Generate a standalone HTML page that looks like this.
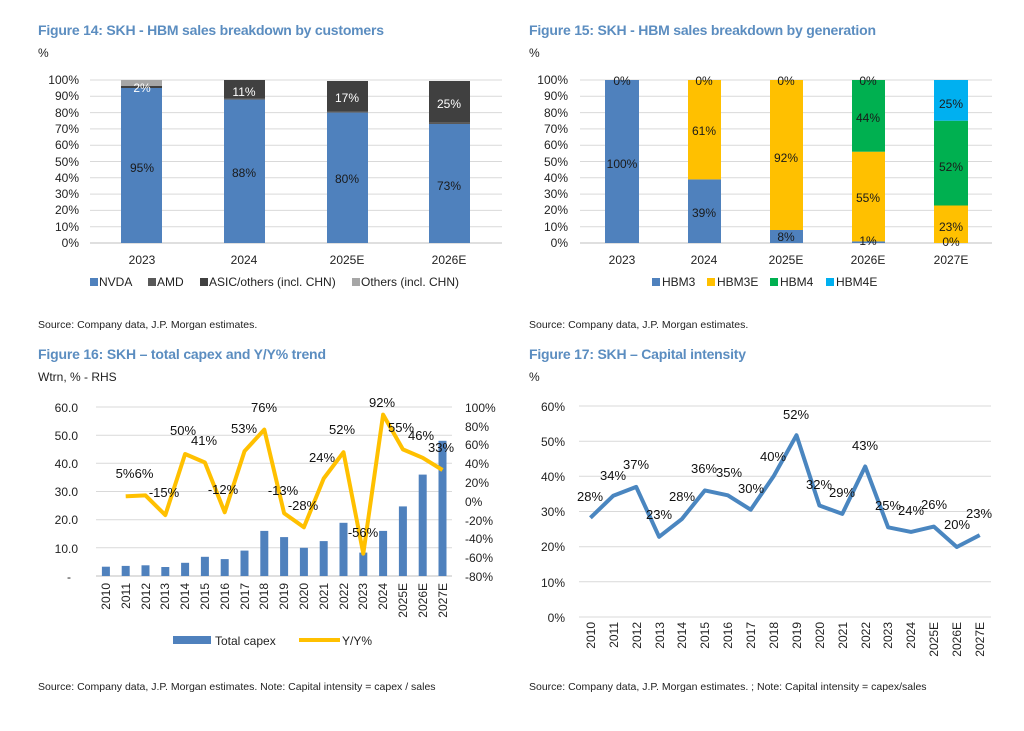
<!DOCTYPE html>
<html><head><meta charset="utf-8"><style>
html,body{margin:0;padding:0;background:#fff}
svg{display:block;font-family:"Liberation Sans",Arial,sans-serif}
.t{font-weight:bold;fill:#5b8dc0;font-size:14px}
.s{font-size:10.5px;fill:#222}
.ax{font-size:12px;fill:#222}
.lb{font-size:12px;fill:#1a1a1a}
.g{stroke:#d9d9d9;stroke-width:1}
.l3{font-size:13px;fill:#111}
</style></head><body>
<svg width="1024" height="731" viewBox="0 0 1024 731" xmlns="http://www.w3.org/2000/svg">
<!-- titles -->
<text x="38" y="35" class="t" textLength="346">Figure 14: SKH - HBM sales breakdown by customers</text>
<text x="38" y="57" class="ax">%</text>
<text x="529" y="35" class="t" textLength="347">Figure 15: SKH - HBM sales breakdown by generation</text>
<text x="529" y="57" class="ax">%</text>
<text x="38" y="328" class="s">Source: Company data, J.P. Morgan estimates.</text>
<text x="529" y="328" class="s">Source: Company data, J.P. Morgan estimates.</text>
<text x="38" y="359" class="t" textLength="288">Figure 16: SKH – total capex and Y/Y% trend</text>
<text x="38" y="381" class="ax">Wtrn, % - RHS</text>
<text x="529" y="359" class="t" textLength="217">Figure 17: SKH – Capital intensity</text>
<text x="529" y="381" class="ax">%</text>
<text x="38" y="690" class="s">Source: Company data, J.P. Morgan estimates. Note: Capital intensity = capex / sales</text>
<text x="529" y="690" class="s">Source: Company data, J.P. Morgan estimates. ; Note: Capital intensity = capex/sales</text>

<!-- Chart 1 -->
<g>
<line class="g" x1="90" x2="502" y1="80" y2="80"/><line class="g" x1="90" x2="502" y1="96.3" y2="96.3"/><line class="g" x1="90" x2="502" y1="112.6" y2="112.6"/><line class="g" x1="90" x2="502" y1="128.9" y2="128.9"/><line class="g" x1="90" x2="502" y1="145.2" y2="145.2"/><line class="g" x1="90" x2="502" y1="161.5" y2="161.5"/><line class="g" x1="90" x2="502" y1="177.8" y2="177.8"/><line class="g" x1="90" x2="502" y1="194.1" y2="194.1"/><line class="g" x1="90" x2="502" y1="210.4" y2="210.4"/><line class="g" x1="90" x2="502" y1="226.7" y2="226.7"/>
<line x1="90" x2="502" y1="243" y2="243" stroke="#bfbfbf"/>
<g class="ax" text-anchor="end">
<text x="79" y="84">100%</text><text x="79" y="100">90%</text><text x="79" y="117">80%</text><text x="79" y="133">70%</text><text x="79" y="149">60%</text><text x="79" y="166">50%</text><text x="79" y="182">40%</text><text x="79" y="198">30%</text><text x="79" y="214">20%</text><text x="79" y="231">10%</text><text x="79" y="247">0%</text>
</g>
<rect x="121" y="88" width="41" height="155" fill="#4f81bd"/><rect x="121" y="86" width="41" height="2" fill="#404040"/><rect x="121" y="80" width="41" height="6" fill="#a6a6a6"/>
<rect x="224" y="99.6" width="41" height="143.4" fill="#4f81bd"/><rect x="224" y="98" width="41" height="1.6" fill="#595959"/><rect x="224" y="80" width="41" height="18" fill="#404040"/>
<rect x="327" y="112.6" width="41" height="130.4" fill="#4f81bd"/><rect x="327" y="111" width="41" height="1.6" fill="#595959"/><rect x="327" y="81" width="41" height="30" fill="#404040"/>
<rect x="429" y="124" width="41" height="119" fill="#4f81bd"/><rect x="429" y="122.4" width="41" height="1.6" fill="#595959"/><rect x="429" y="81" width="41" height="41.4" fill="#404040"/>
<g class="lb" text-anchor="middle">
<text x="142" y="172">95%</text><text x="244" y="177">88%</text><text x="347" y="183">80%</text><text x="449" y="190">73%</text>
<text x="142" y="92" fill="#fff">2%</text><text x="244" y="96" fill="#fff">11%</text><text x="347" y="102" fill="#fff">17%</text><text x="449" y="108" fill="#fff">25%</text>
</g>
<g class="ax" text-anchor="middle"><text x="142" y="264">2023</text><text x="244" y="264">2024</text><text x="347" y="264">2025E</text><text x="449" y="264">2026E</text></g>
<g class="ax">
<rect x="90" y="278" width="8" height="8" fill="#4f81bd"/><text x="99" y="286">NVDA</text>
<rect x="148" y="278" width="8" height="8" fill="#595959"/><text x="157" y="286">AMD</text>
<rect x="200" y="278" width="8" height="8" fill="#404040"/><text x="209" y="286">ASIC/others (incl. CHN)</text>
<rect x="352" y="278" width="8" height="8" fill="#a6a6a6"/><text x="361" y="286">Others (incl. CHN)</text>
</g>
</g>

<!-- Chart 2 -->
<g>
<line class="g" x1="580" x2="992" y1="80" y2="80"/><line class="g" x1="580" x2="992" y1="96.3" y2="96.3"/><line class="g" x1="580" x2="992" y1="112.6" y2="112.6"/><line class="g" x1="580" x2="992" y1="128.9" y2="128.9"/><line class="g" x1="580" x2="992" y1="145.2" y2="145.2"/><line class="g" x1="580" x2="992" y1="161.5" y2="161.5"/><line class="g" x1="580" x2="992" y1="177.8" y2="177.8"/><line class="g" x1="580" x2="992" y1="194.1" y2="194.1"/><line class="g" x1="580" x2="992" y1="210.4" y2="210.4"/><line class="g" x1="580" x2="992" y1="226.7" y2="226.7"/>
<line x1="580" x2="992" y1="243" y2="243" stroke="#bfbfbf"/>
<g class="ax" text-anchor="end">
<text x="568" y="84">100%</text><text x="568" y="100">90%</text><text x="568" y="117">80%</text><text x="568" y="133">70%</text><text x="568" y="149">60%</text><text x="568" y="166">50%</text><text x="568" y="182">40%</text><text x="568" y="198">30%</text><text x="568" y="214">20%</text><text x="568" y="231">10%</text><text x="568" y="247">0%</text>
</g>
<rect x="605" y="80" width="34" height="163" fill="#4f81bd"/>
<rect x="688" y="179.4" width="33" height="63.6" fill="#4f81bd"/><rect x="688" y="80" width="33" height="99.4" fill="#ffc000"/>
<rect x="770" y="230" width="33" height="13" fill="#4f81bd"/><rect x="770" y="80" width="33" height="150" fill="#ffc000"/>
<rect x="852" y="241.4" width="33" height="1.6" fill="#4f81bd"/><rect x="852" y="151.7" width="33" height="89.7" fill="#ffc000"/><rect x="852" y="80" width="33" height="71.7" fill="#00b050"/>
<rect x="934" y="205.5" width="34" height="37.5" fill="#ffc000"/><rect x="934" y="120.7" width="34" height="84.8" fill="#00b050"/><rect x="934" y="80" width="34" height="40.7" fill="#00b0f0"/>
<g class="lb" text-anchor="middle">
<text x="622" y="85">0%</text><text x="622" y="168">100%</text>
<text x="704" y="85">0%</text><text x="704" y="135">61%</text><text x="704" y="217">39%</text>
<text x="786" y="85">0%</text><text x="786" y="162">92%</text><text x="786" y="241">8%</text>
<text x="868" y="85">0%</text><text x="868" y="122">44%</text><text x="868" y="202">55%</text><text x="868" y="245">1%</text>
<text x="951" y="108">25%</text><text x="951" y="171">52%</text><text x="951" y="231">23%</text><text x="951" y="246">0%</text>
</g>
<g class="ax" text-anchor="middle"><text x="622" y="264">2023</text><text x="704" y="264">2024</text><text x="786" y="264">2025E</text><text x="868" y="264">2026E</text><text x="951" y="264">2027E</text></g>
<g class="ax">
<rect x="652" y="278" width="8" height="8" fill="#4f81bd"/><text x="662" y="286">HBM3</text>
<rect x="707" y="278" width="8" height="8" fill="#ffc000"/><text x="717" y="286">HBM3E</text>
<rect x="770" y="278" width="8" height="8" fill="#00b050"/><text x="780" y="286">HBM4</text>
<rect x="826" y="278" width="8" height="8" fill="#00b0f0"/><text x="836" y="286">HBM4E</text>
</g>
</g>

<!-- Chart 3 -->
<g>
<line class="g" x1="96" x2="452" y1="407" y2="407"/><line class="g" x1="96" x2="452" y1="435.2" y2="435.2"/><line class="g" x1="96" x2="452" y1="463.3" y2="463.3"/><line class="g" x1="96" x2="452" y1="491.5" y2="491.5"/><line class="g" x1="96" x2="452" y1="519.7" y2="519.7"/><line class="g" x1="96" x2="452" y1="547.8" y2="547.8"/>
<line x1="96" x2="452" y1="576" y2="576" stroke="#bfbfbf"/>
<g class="ax" font-size="13" text-anchor="end">
<text x="78" y="412">60.0</text><text x="78" y="440">50.0</text><text x="78" y="468">40.0</text><text x="78" y="496">30.0</text><text x="78" y="524">20.0</text><text x="78" y="553">10.0</text><text x="71" y="581">-</text>
</g>
<g class="ax" font-size="13">
<text x="465" y="412">100%</text><text x="465" y="431">80%</text><text x="465" y="449">60%</text><text x="465" y="468">40%</text><text x="465" y="487">20%</text><text x="465" y="506">0%</text><text x="465" y="525">-20%</text><text x="465" y="543">-40%</text><text x="465" y="562">-60%</text><text x="465" y="581">-80%</text>
</g>
<g fill="#4f81bd">
<rect x="101.9" y="566.7" width="8" height="9.3"/><rect x="121.7" y="565.9" width="8" height="10.1"/><rect x="141.5" y="565.3" width="8" height="10.7"/><rect x="161.3" y="567" width="8" height="9"/><rect x="181.1" y="562.8" width="8" height="13.2"/><rect x="200.9" y="556.8" width="8" height="19.2"/><rect x="220.7" y="559.1" width="8" height="16.9"/><rect x="240.5" y="550.6" width="8" height="25.4"/><rect x="260.3" y="530.9" width="8" height="45.1"/><rect x="280.1" y="537.1" width="8" height="38.9"/><rect x="299.9" y="547.8" width="8" height="28.2"/><rect x="319.7" y="541.1" width="8" height="34.9"/><rect x="339.5" y="522.8" width="8" height="53.2"/><rect x="359.3" y="552.6" width="8" height="23.4"/><rect x="379.1" y="530.9" width="8" height="45.1"/><rect x="398.9" y="506.4" width="8" height="69.6"/><rect x="418.7" y="474.6" width="8" height="101.4"/><rect x="438.5" y="440.8" width="8" height="135.2"/>
</g>
<polyline fill="none" stroke="#ffc000" stroke-width="4" stroke-linejoin="round" points="125.7,496.3 145.5,495.4 165.3,515.1 185.1,454 204.9,462.5 224.7,512.3 244.5,451.2 264.3,429.6 284.1,513.2 303.9,527.3 323.7,478.5 343.5,452.2 363.3,553.6 383.1,414.6 402.9,449.4 422.7,457.8 442.5,470"/>
<g class="l3" text-anchor="middle">
<text x="125" y="478">5%</text><text x="144" y="478">6%</text><text x="164" y="497">-15%</text><text x="183" y="435">50%</text><text x="204" y="445">41%</text><text x="223" y="494">-12%</text><text x="244" y="433">53%</text><text x="264" y="412">76%</text><text x="283" y="495">-13%</text><text x="303" y="510">-28%</text><text x="322" y="462">24%</text><text x="342" y="434">52%</text><text x="363" y="537">-56%</text><text x="382" y="407">92%</text><text x="401" y="432">55%</text><text x="421" y="440">46%</text><text x="441" y="452">33%</text>
</g>
<g class="ax" font-size="12.5" text-anchor="end">
<text transform="translate(110,583) rotate(-90)">2010</text><text transform="translate(130,583) rotate(-90)">2011</text><text transform="translate(150,583) rotate(-90)">2012</text><text transform="translate(169,583) rotate(-90)">2013</text><text transform="translate(189,583) rotate(-90)">2014</text><text transform="translate(209,583) rotate(-90)">2015</text><text transform="translate(229,583) rotate(-90)">2016</text><text transform="translate(249,583) rotate(-90)">2017</text><text transform="translate(268,583) rotate(-90)">2018</text><text transform="translate(288,583) rotate(-90)">2019</text><text transform="translate(308,583) rotate(-90)">2020</text><text transform="translate(328,583) rotate(-90)">2021</text><text transform="translate(348,583) rotate(-90)">2022</text><text transform="translate(367,583) rotate(-90)">2023</text><text transform="translate(387,583) rotate(-90)">2024</text><text transform="translate(407,583) rotate(-90)">2025E</text><text transform="translate(427,583) rotate(-90)">2026E</text><text transform="translate(447,583) rotate(-90)">2027E</text>
</g>
<rect x="173" y="636" width="38" height="8" fill="#4f81bd"/><text x="215" y="645" class="ax" font-size="13">Total capex</text>
<line x1="299" x2="340" y1="640" y2="640" stroke="#ffc000" stroke-width="4"/><text x="342" y="645" class="ax" font-size="13">Y/Y%</text>
</g>

<!-- Chart 4 -->
<g>
<line class="g" x1="579" x2="991" y1="406" y2="406"/><line class="g" x1="579" x2="991" y1="441.2" y2="441.2"/><line class="g" x1="579" x2="991" y1="476.3" y2="476.3"/><line class="g" x1="579" x2="991" y1="511.5" y2="511.5"/><line class="g" x1="579" x2="991" y1="546.7" y2="546.7"/><line class="g" x1="579" x2="991" y1="581.8" y2="581.8"/>
<line x1="579" x2="991" y1="617" y2="617" stroke="#d9d9d9"/>
<g class="ax" font-size="13" text-anchor="end">
<text x="565" y="411">60%</text><text x="565" y="446">50%</text><text x="565" y="481">40%</text><text x="565" y="516">30%</text><text x="565" y="551">20%</text><text x="565" y="587">10%</text><text x="565" y="622">0%</text>
</g>
<polyline fill="none" stroke="#4a86c0" stroke-width="4" stroke-linejoin="round" points="590.4,517.8 613.3,495.7 636.2,486.9 659.1,536.8 682,518.9 704.9,490.4 727.8,495.3 750.7,509.7 773.6,476.3 796.5,435.2 819.4,505.5 842.3,513.9 865.2,466.5 888.1,527.3 911,531.9 933.9,526.6 956.8,547 979.7,535.1"/>
<g class="l3" text-anchor="middle">
<text x="590" y="501">28%</text><text x="613" y="480">34%</text><text x="636" y="469">37%</text><text x="659" y="519">23%</text><text x="682" y="501">28%</text><text x="704" y="473">36%</text><text x="729" y="477">35%</text><text x="751" y="493">30%</text><text x="773" y="461">40%</text><text x="796" y="419">52%</text><text x="819" y="489">32%</text><text x="842" y="497">29%</text><text x="865" y="450">43%</text><text x="888" y="510">25%</text><text x="911" y="515">24%</text><text x="934" y="509">26%</text><text x="957" y="529">20%</text><text x="979" y="518">23%</text>
</g>
<g class="ax" font-size="12.5" text-anchor="end">
<text transform="translate(595,622) rotate(-90)">2010</text><text transform="translate(618,622) rotate(-90)">2011</text><text transform="translate(641,622) rotate(-90)">2012</text><text transform="translate(664,622) rotate(-90)">2013</text><text transform="translate(686,622) rotate(-90)">2014</text><text transform="translate(709,622) rotate(-90)">2015</text><text transform="translate(732,622) rotate(-90)">2016</text><text transform="translate(755,622) rotate(-90)">2017</text><text transform="translate(778,622) rotate(-90)">2018</text><text transform="translate(801,622) rotate(-90)">2019</text><text transform="translate(824,622) rotate(-90)">2020</text><text transform="translate(847,622) rotate(-90)">2021</text><text transform="translate(870,622) rotate(-90)">2022</text><text transform="translate(892,622) rotate(-90)">2023</text><text transform="translate(915,622) rotate(-90)">2024</text><text transform="translate(938,622) rotate(-90)">2025E</text><text transform="translate(961,622) rotate(-90)">2026E</text><text transform="translate(984,622) rotate(-90)">2027E</text>
</g>
</g>
</svg>
</body></html>
